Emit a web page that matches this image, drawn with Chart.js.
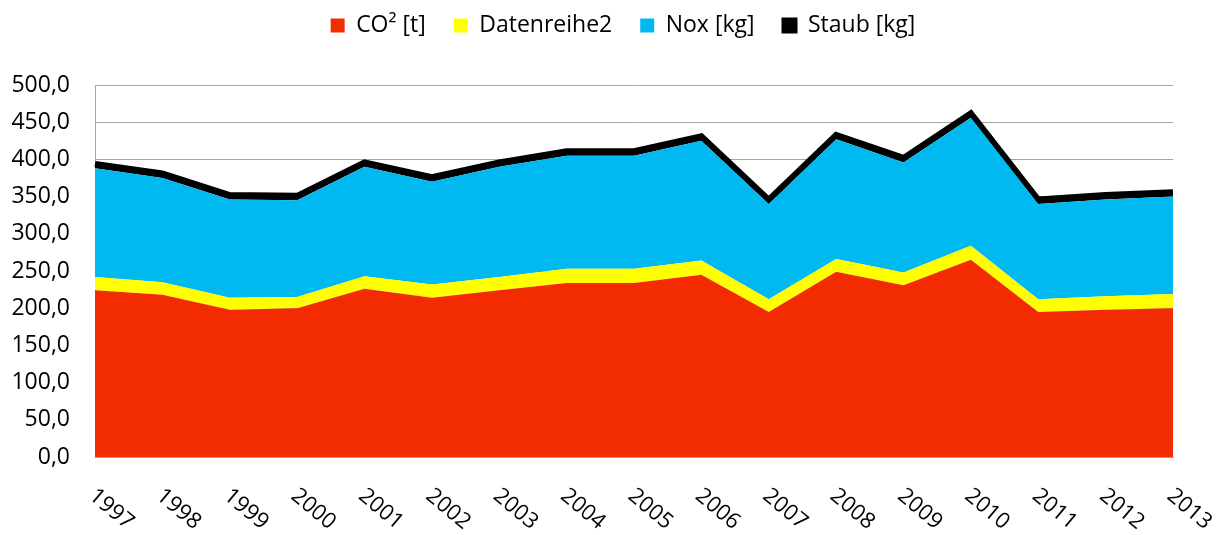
<!DOCTYPE html>
<html>
<head>
<meta charset="utf-8">
<script src="https://cdn.jsdelivr.net/npm/chart.js@4/dist/chart.umd.min.js"></script>
<style>
  html, body { margin: 0; padding: 0; background: #ffffff; }
  #wrap { width: 1224px; height: 535px; position: relative; }
</style>
</head>
<body>
<div id="wrap"><canvas id="c" width="1224" height="535"></canvas></div>
<script>
const years = ['1997','1998','1999','2000','2001','2002','2003','2004','2005','2006','2007','2008','2009','2010','2011','2012','2013'];
const co2 =         [224, 218, 198, 200, 226, 214, 224, 234, 234, 245, 195, 249, 231, 265, 195, 198, 200];
const datenreihe2 = [ 18,  17,  16,  15,  17,  18,  18,  19,  19,  19,  17,  17,  17,  19,  17,  18,  19];
const nox =         [146, 140, 132, 130, 147, 138, 148, 152, 152, 161, 128, 161, 148, 172, 128, 130, 131];
const staub =       [  6,   6,   6,   6,   6,   6,   6,   6,   6,   6,   6,   6,   6,   6,   6,   6,   6];
const yTicks = [0, 50, 100, 150, 200, 250, 300, 350, 400, 450, 500];

const FONT = '"Open Sans", "DejaVu Sans", sans-serif';

const xLabelsPlugin = {
  id: 'xLabels',
  afterDraw(chart) {
    const ctx = chart.ctx;
    const xs = chart.scales.x;
    ctx.save();
    ctx.font = '22px ' + FONT;
    ctx.fillStyle = '#000000';
    ctx.textAlign = 'left';
    ctx.textBaseline = 'middle';
    xs.ticks.forEach((t, i) => {
      const x = xs.getPixelForTick(i);
      ctx.save();
      ctx.translate(x - 3, 493);
      ctx.rotate(40 * Math.PI / 180);
      ctx.fillText(years[i], 0, 0);
      ctx.restore();
    });
    ctx.restore();
  }
};

new Chart(document.getElementById('c'), {
  type: 'line',
  data: {
    labels: years,
    datasets: [
      { label: 'CO² [t]', data: co2, backgroundColor: '#F22B00', borderColor: '#F22B00', borderWidth: 0, fill: 'origin', pointRadius: 0, tension: 0 },
      { label: 'Datenreihe2', data: datenreihe2, backgroundColor: '#FFFF00', borderColor: '#FFFF00', borderWidth: 0, fill: '-1', pointRadius: 0, tension: 0 },
      { label: 'Nox [kg]', data: nox, backgroundColor: '#00B9F0', borderColor: '#00B9F0', borderWidth: 0, fill: '-1', pointRadius: 0, tension: 0 },
      { label: 'Staub [kg]', data: staub, backgroundColor: '#000000', borderColor: '#000000', borderWidth: 6, fill: '-1', pointRadius: 0, tension: 0 }
    ]
  },
  options: {
    responsive: false,
    animation: false,
    devicePixelRatio: 1,
    layout: { padding: { left: 0, right: -22, top: -14, bottom: 0 } },
    plugins: {
      tooltip: { enabled: false },
      legend: {
        display: true,
        position: 'top',
        labels: {
          font: { family: FONT, size: 23 },
          color: '#000000',
          boxWidth: 14,
          boxHeight: 14,
          padding: 28,
          generateLabels(chart) {
            return chart.data.datasets.map((ds, i) => ({
              text: ds.label,
              fillStyle: ds.backgroundColor,
              strokeStyle: ds.borderColor,
              lineWidth: i === 3 ? 2 : 0,
              hidden: false,
              datasetIndex: i
            }));
          }
        }
      }
    },
    scales: {
      x: {
        type: 'category',
        offset: false,
        stacked: true,
        grid: { display: false, drawTicks: false },
        border: { display: true, color: '#A6A6A6' },
        ticks: { display: false },
        afterFit(scale) { scale.height = 78; }
      },
      xTop: {
        type: 'category',
        axis: 'x',
        position: 'top',
        offset: false,
        grid: { display: false, drawTicks: false },
        border: { display: false },
        ticks: { display: false },
        afterFit(scale) { scale.height = 38; }
      },
      y: {
        stacked: true,
        min: 0,
        max: 500,
        afterBuildTicks(scale) { scale.ticks = yTicks.map(v => ({ value: v })); },
        grid: { color: '#A6A6A6', lineWidth: 1, drawTicks: false },
        border: { display: true, color: '#A6A6A6' },
        ticks: {
          padding: 25,
          color: '#000000',
          font: { family: FONT, size: 23 },
          callback: (v) => v.toFixed(1).replace('.', ',')
        },
        afterFit(scale) { scale.width = 95; }
      },
      yRight: {
        type: 'linear',
        axis: 'y',
        position: 'right',
        min: 0,
        max: 500,
        grid: { display: false, drawTicks: false },
        border: { display: false },
        ticks: { display: false },
        afterFit(scale) { scale.width = 73; }
      }
    }
  },
  plugins: [xLabelsPlugin]
});
</script>
</body>
</html>
